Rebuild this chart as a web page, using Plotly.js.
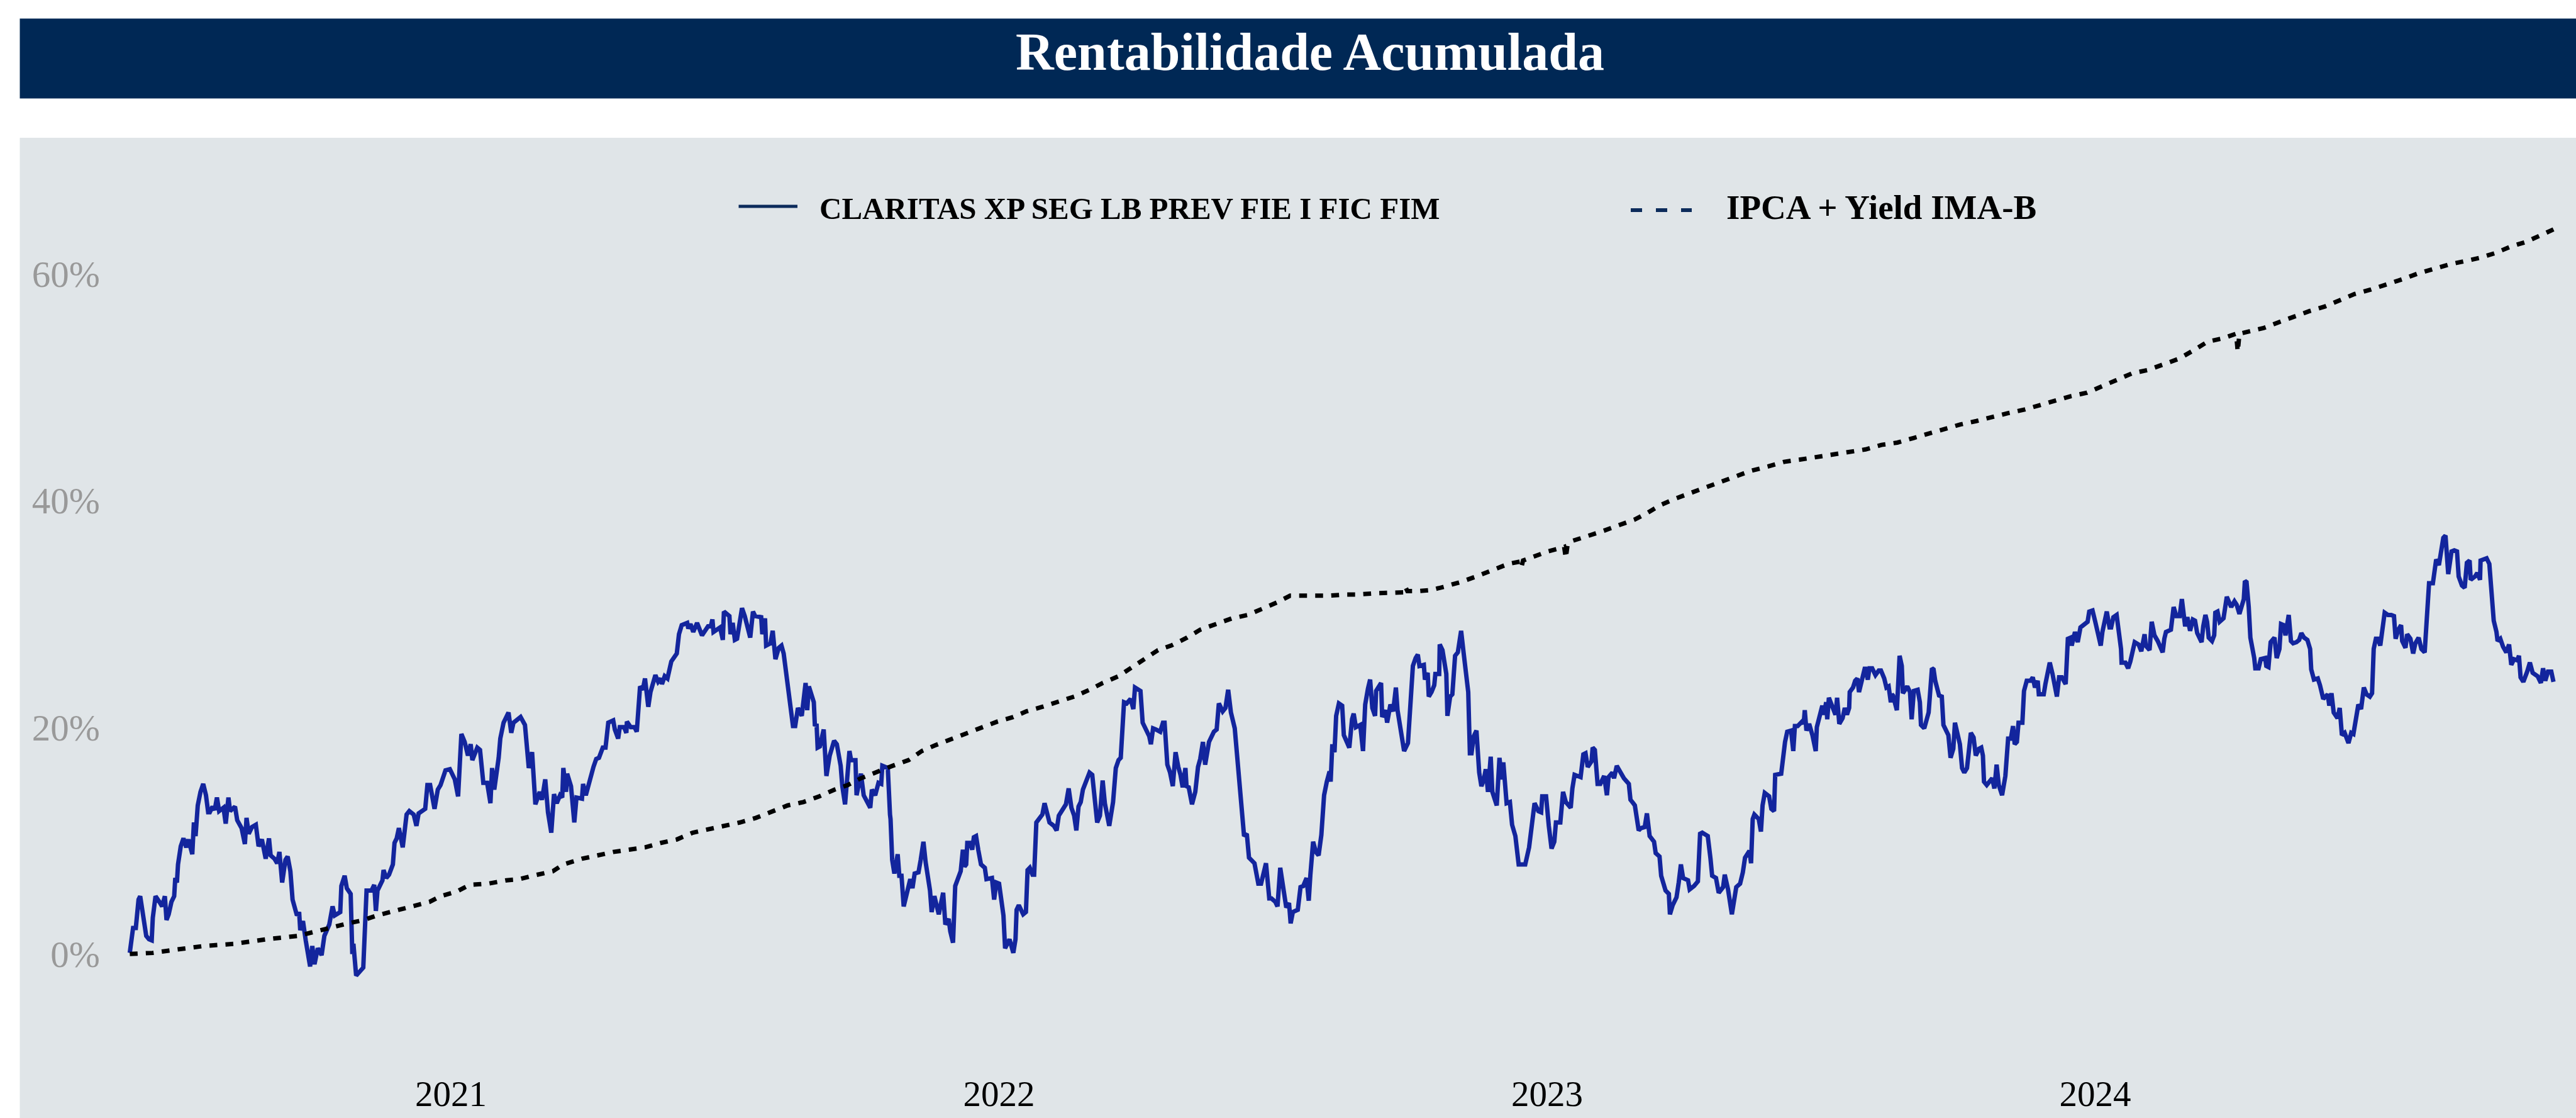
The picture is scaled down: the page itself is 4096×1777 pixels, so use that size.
<!DOCTYPE html>
<html><head><meta charset="utf-8">
<script src="https://cdn.plot.ly/plotly-3.0.1.min.js"></script>
<style>html,body{margin:0;padding:0;background:#fff;}#chart{width:4096px;height:1777px;}</style>
</head><body><div id="chart"></div>
<script>
const chartTitle = 'Rentabilidade Acumulada';
const seriesNames = ['CLARITAS XP SEG LB PREV FIE I FIC FIM', 'IPCA + Yield IMA-B'];
const yearTicks = [2021, 2022, 2023, 2024];
const yearLabels = ['2021', '2022', '2023', '2024'];
const pctTicks = [0, 20, 40, 60];
const pctLabels = ['0%', '20%', '40%', '60%'];

// [fractional year, accumulated return %]
const claritas = [
[2020.414,0.1],[2020.417,1.6],[2020.420,2.3],[2020.425,2.3],[2020.430,4.8],[2020.433,5.1],[2020.437,3.9],[2020.440,2.7],[2020.444,1.6],[2020.449,1.3],
[2020.454,1.2],[2020.456,3.2],[2020.461,5.1],[2020.468,4.6],[2020.473,4.2],[2020.478,5.1],[2020.481,3.0],[2020.485,3.5],[2020.490,4.6],[2020.495,5.1],
[2020.497,6.7],[2020.500,6.3],[2020.502,7.9],[2020.507,9.5],[2020.512,10.2],[2020.517,9.4],[2020.521,10.1],[2020.528,8.8],[2020.531,11.6],[2020.534,10.4],
[2020.538,13.1],[2020.543,14.3],[2020.548,15.0],[2020.553,14.0],[2020.557,12.5],[2020.560,12.5],[2020.565,13.0],[2020.569,12.7],[2020.573,13.8],[2020.577,12.6],
[2020.585,12.9],[2020.589,11.5],[2020.594,13.8],[2020.597,12.6],[2020.606,13.0],[2020.610,11.8],[2020.618,11.1],[2020.624,9.7],[2020.627,12.0],[2020.631,10.6],
[2020.637,11.2],[2020.644,11.4],[2020.649,9.5],[2020.655,10.1],[2020.662,8.4],[2020.668,10.2],[2020.671,8.7],[2020.678,8.4],[2020.683,8.0],[2020.687,9.0],
[2020.692,6.3],[2020.698,8.3],[2020.702,8.6],[2020.707,7.3],[2020.711,4.8],[2020.719,3.4],[2020.723,3.7],[2020.725,2.1],[2020.730,2.9],[2020.735,1.2],
[2020.743,-1.1],[2020.747,0.7],[2020.751,-0.9],[2020.757,0.5],[2020.764,-0.1],[2020.769,1.6],[2020.778,2.6],[2020.784,4.2],[2020.788,3.4],[2020.798,3.7],
[2020.800,6.0],[2020.806,6.9],[2020.810,5.8],[2020.817,5.3],[2020.820,0.0],[2020.822,0.9],[2020.827,-1.9],[2020.840,-1.2],[2020.844,4.4],[2020.846,5.6],
[2020.855,5.6],[2020.860,6.1],[2020.863,3.8],[2020.866,5.6],[2020.875,6.5],[2020.877,7.4],[2020.882,6.7],[2020.887,7.0],[2020.894,7.9],[2020.897,9.8],
[2020.901,10.2],[2020.905,11.1],[2020.912,9.4],[2020.916,11.1],[2020.919,12.3],[2020.924,12.6],[2020.932,12.3],[2020.937,11.3],[2020.941,12.4],[2020.953,12.8],
[2020.957,14.9],[2020.962,14.9],[2020.970,12.8],[2020.976,14.5],[2020.981,14.9],[2020.990,16.2],[2020.998,16.3],[2021.007,15.4],[2021.013,13.9],[2021.019,19.4],
[2021.025,18.7],[2021.031,17.5],[2021.036,18.5],[2021.039,17.1],[2021.048,18.2],[2021.053,18.0],[2021.059,15.1],[2021.066,15.1],[2021.072,13.3],[2021.075,16.4],
[2021.079,14.5],[2021.087,17.3],[2021.090,19.0],[2021.096,20.4],[2021.105,21.3],[2021.110,19.5],[2021.114,20.4],[2021.127,20.9],[2021.135,20.2],[2021.142,16.4],
[2021.148,17.8],[2021.154,13.2],[2021.162,14.3],[2021.166,13.6],[2021.172,15.4],[2021.177,12.5],[2021.183,10.7],[2021.188,14.1],[2021.193,13.3],[2021.199,14.0],
[2021.203,13.8],[2021.205,16.4],[2021.210,14.3],[2021.212,15.9],[2021.219,14.8],[2021.225,11.6],[2021.229,13.8],[2021.239,13.7],[2021.241,15.0],[2021.246,14.0],
[2021.253,15.4],[2021.260,16.5],[2021.265,17.2],[2021.270,17.3],[2021.277,18.2],[2021.282,18.2],[2021.287,20.4],[2021.296,20.6],[2021.299,19.8],[2021.305,19.0],
[2021.308,20.0],[2021.316,20.0],[2021.320,19.5],[2021.321,20.5],[2021.328,20.0],[2021.335,20.0],[2021.339,19.6],[2021.342,21.8],[2021.345,23.6],[2021.350,23.3],
[2021.354,24.3],[2021.360,21.8],[2021.364,23.1],[2021.373,24.6],[2021.378,24.0],[2021.383,24.3],[2021.385,23.8],[2021.390,24.5],[2021.395,24.3],[2021.402,25.8],
[2021.406,26.1],[2021.412,26.5],[2021.416,28.2],[2021.421,29.0],[2021.431,29.2],[2021.433,28.7],[2021.437,29.1],[2021.442,28.4],[2021.449,29.2],[2021.458,28.1],
[2021.469,28.9],[2021.474,28.9],[2021.477,29.5],[2021.479,28.4],[2021.491,28.8],[2021.496,27.7],[2021.498,30.2],[2021.508,29.8],[2021.510,28.2],[2021.514,29.2],
[2021.518,27.7],[2021.522,27.8],[2021.531,30.5],[2021.536,29.8],[2021.546,27.9],[2021.551,30.2],[2021.555,29.8],[2021.566,29.7],[2021.568,28.2],[2021.573,29.6],
[2021.575,27.2],[2021.583,27.4],[2021.587,28.5],[2021.592,26.0],[2021.598,27.0],[2021.603,27.2],[2021.607,26.5],[2021.611,24.9],[2021.620,21.2],[2021.624,20.1],
[2021.628,20.1],[2021.633,21.7],[2021.640,21.0],[2021.647,23.9],[2021.650,21.5],[2021.653,23.6],[2021.662,22.2],[2021.664,20.1],[2021.667,20.3],[2021.669,18.2],
[2021.673,18.3],[2021.680,19.8],[2021.685,15.7],[2021.691,17.5],[2021.699,18.8],[2021.704,18.5],[2021.711,16.6],[2021.714,14.8],[2021.719,13.2],[2021.727,17.9],
[2021.730,17.1],[2021.738,17.1],[2021.740,14.0],[2021.748,15.9],[2021.753,14.0],[2021.761,13.2],[2021.765,12.9],[2021.768,14.5],[2021.774,14.0],[2021.780,15.1],
[2021.785,15.0],[2021.787,16.6],[2021.797,16.4],[2021.801,12.3],[2021.802,11.9],[2021.805,8.3],[2021.809,7.1],[2021.815,8.8],[2021.818,6.9],[2021.822,6.9],
[2021.826,4.2],[2021.838,6.6],[2021.842,5.8],[2021.846,7.1],[2021.853,7.2],[2021.857,8.3],[2021.862,9.9],[2021.866,8.1],[2021.874,5.6],[2021.877,3.7],
[2021.882,5.1],[2021.890,3.5],[2021.898,5.4],[2021.902,2.6],[2021.908,3.1],[2021.911,2.0],[2021.916,1.0],[2021.920,6.0],[2021.925,6.7],[2021.930,7.3],
[2021.934,9.2],[2021.937,7.7],[2021.940,7.9],[2021.942,9.8],[2021.947,9.8],[2021.951,9.2],[2021.954,10.3],[2021.958,10.4],[2021.962,9.2],[2021.967,7.9],
[2021.974,7.6],[2021.977,6.6],[2021.987,6.7],[2021.991,4.8],[2021.995,6.3],[2022.000,6.2],[2022.004,4.8],[2022.008,3.4],[2022.011,0.5],[2022.019,1.3],
[2022.026,0.1],[2022.030,1.3],[2022.032,3.9],[2022.036,4.3],[2022.044,3.5],[2022.049,3.7],[2022.052,7.4],[2022.056,7.6],[2022.061,7.0],[2022.064,7.0],
[2022.068,11.6],[2022.073,12.0],[2022.079,12.3],[2022.083,13.3],[2022.088,12.5],[2022.092,11.6],[2022.100,11.3],[2022.105,10.9],[2022.109,12.2],[2022.115,12.6],
[2022.122,13.2],[2022.127,14.6],[2022.132,12.9],[2022.137,12.2],[2022.141,10.9],[2022.145,13.0],[2022.149,13.4],[2022.153,14.5],[2022.165,16.0],[2022.170,15.8],
[2022.175,13.2],[2022.179,11.6],[2022.184,12.2],[2022.187,15.2],[2022.189,15.3],[2022.193,13.3],[2022.197,12.5],[2022.201,11.3],[2022.208,13.4],[2022.213,16.4],
[2022.218,17.1],[2022.222,17.3],[2022.228,22.2],[2022.233,22.1],[2022.240,22.5],[2022.245,21.6],[2022.248,23.5],[2022.258,23.2],[2022.262,20.4],[2022.269,19.7],
[2022.274,19.2],[2022.277,18.5],[2022.281,19.9],[2022.286,19.8],[2022.294,19.6],[2022.299,20.4],[2022.302,20.4],[2022.307,16.7],[2022.312,16.0],[2022.317,14.8],
[2022.322,17.8],[2022.327,16.5],[2022.331,15.8],[2022.335,14.7],[2022.340,16.4],[2022.342,14.8],[2022.346,14.7],[2022.352,13.2],[2022.358,14.3],[2022.363,16.5],
[2022.367,17.2],[2022.372,18.7],[2022.376,16.7],[2022.383,18.7],[2022.388,19.3],[2022.392,19.6],[2022.397,19.8],[2022.401,22.1],[2022.408,21.4],[2022.413,21.7],
[2022.418,23.3],[2022.423,21.3],[2022.430,19.9],[2022.435,17.3],[2022.440,14.0],[2022.447,10.4],[2022.452,10.6],[2022.456,8.5],[2022.466,8.0],[2022.473,6.2],
[2022.478,6.2],[2022.487,8.0],[2022.493,4.9],[2022.497,4.9],[2022.504,4.6],[2022.508,4.2],[2022.513,7.6],[2022.519,5.5],[2022.524,4.1],[2022.529,4.5],
[2022.532,2.7],[2022.536,3.7],[2022.545,3.9],[2022.550,5.9],[2022.555,6.0],[2022.561,6.7],[2022.565,4.7],[2022.568,7.0],[2022.573,9.9],[2022.578,9.0],
[2022.583,8.7],[2022.588,10.5],[2022.593,14.0],[2022.598,15.2],[2022.603,16.1],[2022.605,15.2],[2022.608,18.5],[2022.612,17.8],[2022.615,21.0],[2022.620,22.1],
[2022.626,21.9],[2022.629,19.3],[2022.639,18.2],[2022.644,20.7],[2022.647,21.2],[2022.651,20.0],[2022.659,20.2],[2022.664,17.9],[2022.668,22.0],[2022.673,23.4],
[2022.677,24.2],[2022.681,21.7],[2022.686,21.0],[2022.688,23.2],[2022.697,23.9],[2022.699,20.9],[2022.705,21.5],[2022.708,20.4],[2022.714,22.0],[2022.719,21.4],
[2022.724,23.5],[2022.727,21.5],[2022.734,19.3],[2022.739,17.9],[2022.746,18.6],[2022.751,22.0],[2022.755,25.4],[2022.760,26.1],[2022.764,26.4],[2022.767,25.4],
[2022.775,25.5],[2022.777,24.2],[2022.782,24.8],[2022.784,22.7],[2022.789,23.1],[2022.794,23.7],[2022.796,24.7],[2022.803,24.7],[2022.804,27.3],[2022.809,26.8],
[2022.816,24.7],[2022.818,21.0],[2022.823,22.7],[2022.827,22.9],[2022.832,26.3],[2022.837,26.6],[2022.843,28.5],[2022.847,26.8],[2022.852,24.7],[2022.856,23.1],
[2022.859,17.7],[2022.862,17.7],[2022.866,19.2],[2022.871,19.7],[2022.876,16.0],[2022.880,14.8],[2022.884,15.3],[2022.888,16.3],[2022.892,14.3],[2022.897,17.4],
[2022.900,14.3],[2022.904,13.6],[2022.908,13.1],[2022.913,17.3],[2022.917,15.4],[2022.920,16.9],[2022.926,13.3],[2022.932,13.4],[2022.936,11.4],[2022.942,10.4],
[2022.948,7.9],[2022.955,7.9],[2022.960,7.9],[2022.967,9.4],[2022.972,11.4],[2022.977,13.3],[2022.984,12.6],[2022.989,12.5],[2022.991,13.9],[2022.998,13.9],
[2023.003,11.3],[2023.008,9.3],[2023.013,9.9],[2023.016,11.6],[2023.024,11.6],[2023.029,14.3],[2023.034,13.4],[2023.043,12.9],[2023.046,14.6],[2023.050,15.8],
[2023.061,15.6],[2023.066,17.6],[2023.070,17.7],[2023.074,16.5],[2023.081,17.0],[2023.083,18.2],[2023.087,18.0],[2023.092,15.0],[2023.097,15.0],[2023.104,15.7],
[2023.109,14.0],[2023.112,15.6],[2023.119,16.0],[2023.122,15.5],[2023.127,16.6],[2023.131,16.2],[2023.140,15.5],[2023.149,15.0],[2023.152,13.6],[2023.157,13.3],
[2023.160,13.1],[2023.167,10.9],[2023.171,11.1],[2023.178,11.2],[2023.182,12.4],[2023.187,10.4],[2023.195,9.9],[2023.198,8.9],[2023.205,8.6],[2023.208,6.9],
[2023.216,5.6],[2023.222,5.3],[2023.224,3.5],[2023.229,4.3],[2023.236,5.0],[2023.240,6.3],[2023.244,7.9],[2023.248,6.7],[2023.257,6.5],[2023.260,5.7],
[2023.268,6.0],[2023.275,6.4],[2023.279,10.6],[2023.283,10.7],[2023.293,10.4],[2023.298,8.4],[2023.301,6.9],[2023.308,6.7],[2023.313,5.4],[2023.321,5.9],
[2023.324,7.0],[2023.330,5.7],[2023.337,3.5],[2023.345,5.9],[2023.352,6.2],[2023.357,7.2],[2023.361,8.5],[2023.369,9.1],[2023.372,8.0],[2023.375,11.9],
[2023.378,12.3],[2023.386,11.9],[2023.390,10.8],[2023.393,13.1],[2023.397,14.2],[2023.405,13.9],[2023.409,12.8],[2023.414,12.6],[2023.416,15.8],[2023.427,15.9],
[2023.431,17.8],[2023.434,18.7],[2023.438,19.6],[2023.445,19.7],[2023.449,17.9],[2023.452,20.1],[2023.457,20.1],[2023.465,20.5],[2023.468,20.3],[2023.470,21.5],
[2023.473,19.7],[2023.478,20.3],[2023.484,19.3],[2023.490,17.9],[2023.492,20.0],[2023.497,20.8],[2023.502,21.9],[2023.505,21.1],[2023.509,22.2],[2023.511,20.7],
[2023.514,22.6],[2023.522,21.6],[2023.526,21.1],[2023.529,22.6],[2023.533,20.3],[2023.539,20.8],[2023.543,21.7],[2023.547,21.1],[2023.551,21.7],[2023.552,23.1],
[2023.558,23.5],[2023.562,24.1],[2023.566,24.3],[2023.569,23.1],[2023.572,23.8],[2023.580,25.3],[2023.585,24.2],[2023.588,25.2],[2023.593,25.2],[2023.599,24.6],
[2023.605,25.0],[2023.609,25.0],[2023.615,24.3],[2023.619,23.5],[2023.623,23.6],[2023.627,22.2],[2023.629,22.9],[2023.631,22.8],[2023.638,21.5],[2023.641,26.1],
[2023.643,26.3],[2023.647,25.4],[2023.649,23.0],[2023.657,23.6],[2023.662,23.1],[2023.665,20.7],[2023.669,23.2],[2023.676,23.3],[2023.680,22.2],[2023.682,20.2],
[2023.688,19.9],[2023.696,21.3],[2023.699,23.1],[2023.702,25.2],[2023.705,25.1],[2023.708,24.1],[2023.715,22.8],[2023.720,22.7],[2023.723,20.2],[2023.728,19.6],
[2023.732,19.3],[2023.736,17.3],[2023.741,18.1],[2023.744,20.4],[2023.753,18.5],[2023.757,16.4],[2023.761,16.0],[2023.766,16.4],[2023.773,19.5],[2023.778,19.1],
[2023.782,17.5],[2023.788,18.1],[2023.792,18.2],[2023.795,17.5],[2023.797,15.2],[2023.802,14.9],[2023.809,15.3],[2023.812,15.5],[2023.816,14.6],[2023.818,16.7],
[2023.820,16.7],[2023.824,14.9],[2023.830,14.0],[2023.836,15.7],[2023.841,19.0],[2023.846,19.0],[2023.850,20.1],[2023.853,18.5],[2023.857,18.7],[2023.860,20.4],
[2023.867,20.4],[2023.870,23.2],[2023.875,24.1],[2023.882,24.1],[2023.886,24.4],[2023.890,23.5],[2023.895,24.1],[2023.897,22.9],[2023.906,22.9],[2023.909,23.8],
[2023.913,24.7],[2023.917,25.7],[2023.922,24.7],[2023.926,23.5],[2023.930,22.7],[2023.934,24.4],[2023.939,24.4],[2023.946,23.8],[2023.950,27.8],[2023.955,27.9],
[2023.957,27.2],[2023.963,28.4],[2023.968,27.5],[2023.973,28.8],[2023.980,29.1],[2023.986,29.3],[2023.989,30.2],[2023.995,30.3],[2024.000,29.3],[2024.005,28.4],
[2024.010,27.2],[2024.013,28.4],[2024.018,29.6],[2024.021,30.2],[2024.026,28.8],[2024.029,28.8],[2024.033,29.7],[2024.039,29.9],[2024.043,28.4],[2024.047,26.9],
[2024.048,25.7],[2024.055,25.7],[2024.060,25.2],[2024.064,25.8],[2024.072,27.5],[2024.079,27.3],[2024.084,26.7],[2024.090,28.2],[2024.092,27.2],[2024.099,26.8],
[2024.103,29.3],[2024.108,28.1],[2024.114,27.6],[2024.123,26.6],[2024.126,27.8],[2024.129,28.4],[2024.138,28.6],[2024.140,29.9],[2024.143,30.6],[2024.148,29.8],
[2024.154,29.8],[2024.158,31.3],[2024.162,29.3],[2024.164,28.9],[2024.168,29.7],[2024.173,28.5],[2024.178,29.5],[2024.182,29.4],[2024.186,28.3],[2024.194,27.5],
[2024.197,28.9],[2024.201,29.9],[2024.204,29.3],[2024.207,27.9],[2024.213,27.6],[2024.217,28.1],[2024.219,30.1],[2024.223,30.2],[2024.227,29.3],[2024.234,29.6],
[2024.240,31.5],[2024.248,30.6],[2024.254,31.1],[2024.258,30.8],[2024.263,30.0],[2024.267,30.6],[2024.271,31.3],[2024.273,32.9],[2024.276,32.8],[2024.280,30.6],
[2024.283,27.9],[2024.290,26.1],[2024.292,25.2],[2024.298,25.2],[2024.302,26.0],[2024.310,26.1],[2024.312,25.4],[2024.316,25.3],[2024.320,27.5],[2024.327,27.9],
[2024.331,26.1],[2024.336,26.9],[2024.339,29.1],[2024.344,29.0],[2024.347,28.1],[2024.353,29.9],[2024.357,27.6],[2024.361,27.4],[2024.367,27.5],[2024.372,27.7],
[2024.376,28.3],[2024.381,27.9],[2024.387,27.7],[2024.392,26.9],[2024.394,25.1],[2024.399,24.2],[2024.406,24.3],[2024.410,23.7],[2024.416,22.5],[2024.424,22.9],
[2024.427,21.9],[2024.431,23.0],[2024.435,21.3],[2024.442,20.8],[2024.446,21.7],[2024.450,19.3],[2024.455,19.5],[2024.462,18.6],[2024.467,19.5],[2024.471,19.4],
[2024.475,20.5],[2024.480,22.0],[2024.485,21.6],[2024.490,23.5],[2024.495,22.9],[2024.501,22.7],[2024.505,23.0],[2024.508,26.9],[2024.512,27.8],[2024.516,27.8],
[2024.520,27.2],[2024.524,28.8],[2024.528,30.1],[2024.534,29.9],[2024.540,29.9],[2024.545,29.8],[2024.548,27.8],[2024.553,28.6],[2024.558,29.0],[2024.560,27.6],
[2024.566,27.0],[2024.569,28.2],[2024.575,27.8],[2024.580,26.5],[2024.584,27.4],[2024.590,27.9],[2024.595,26.9],[2024.601,26.6],[2024.604,29.3],[2024.606,30.1],
[2024.609,32.7],[2024.616,32.7],[2024.619,33.9],[2024.622,34.8],[2024.627,34.3],[2024.635,36.7],[2024.639,36.9],[2024.644,33.5],[2024.650,35.5],[2024.655,35.6],
[2024.660,35.5],[2024.663,33.3],[2024.669,32.5],[2024.674,32.3],[2024.678,34.5],[2024.683,34.7],[2024.685,33.0],[2024.693,33.3],[2024.697,33.6],[2024.702,33.0],
[2024.703,34.7],[2024.714,34.9],[2024.719,34.4],[2024.723,32.3],[2024.727,29.4],[2024.732,28.4],[2024.734,27.6],[2024.739,27.8],[2024.744,27.1],[2024.750,26.6],
[2024.755,27.3],[2024.759,25.5],[2024.764,26.0],[2024.770,25.9],[2024.773,26.3],[2024.776,24.4],[2024.781,24.0],[2024.788,24.9],[2024.793,25.7],[2024.798,24.8],
[2024.807,24.5],[2024.813,23.9],[2024.817,25.2],[2024.821,24.1],[2024.826,24.9],[2024.832,24.9],[2024.836,24.0]
];

const ipcaYield = [
[2020.414,0.0],[2020.456,0.1],[2020.485,0.3],[2020.548,0.7],[2020.605,0.9],[2020.663,1.3],[2020.721,1.6],[2020.750,2.0],[2020.779,2.3],[2020.812,2.7],
[2020.841,3.0],[2020.865,3.4],[2020.899,3.8],[2020.933,4.2],[2020.961,4.6],[2020.981,5.1],[2021.010,5.5],[2021.034,6.1],[2021.067,6.2],[2021.101,6.5],
[2021.125,6.6],[2021.149,6.9],[2021.186,7.3],[2021.205,7.9],[2021.239,8.4],[2021.268,8.7],[2021.296,9.0],[2021.325,9.2],[2021.354,9.4],[2021.383,9.8],
[2021.412,10.1],[2021.441,10.7],[2021.470,11.0],[2021.498,11.3],[2021.527,11.6],[2021.556,12.0],[2021.585,12.5],[2021.614,13.1],[2021.643,13.4],[2021.672,13.9],
[2021.700,14.5],[2021.724,14.9],[2021.748,15.5],[2021.777,16.1],[2021.806,16.6],[2021.835,17.1],[2021.859,17.9],[2021.883,18.4],[2021.910,18.9],[2021.939,19.5],
[2021.968,20.0],[2021.997,20.5],[2022.026,20.9],[2022.050,21.4],[2022.079,21.8],[2022.108,22.2],[2022.137,22.7],[2022.165,23.3],[2022.189,23.9],[2022.218,24.5],
[2022.242,25.3],[2022.266,26.1],[2022.290,26.8],[2022.314,27.2],[2022.343,27.9],[2022.367,28.6],[2022.396,29.1],[2022.425,29.6],[2022.454,29.9],[2022.483,30.5],
[2022.507,31.0],[2022.531,31.6],[2022.565,31.6],[2022.603,31.6],[2022.632,31.7],[2022.650,31.7],[2022.683,31.8],[2022.717,31.9],[2022.738,31.9],[2022.741,32.4],
[2022.745,32.0],[2022.765,32.0],[2022.789,32.1],[2022.813,32.4],[2022.842,32.8],[2022.871,33.3],[2022.900,33.8],[2022.929,34.4],[2022.950,34.6],[2022.953,34.1],
[2022.956,34.7],[2022.967,34.9],[2023.001,35.5],[2023.025,35.8],[2023.031,35.9],[2023.034,34.9],[2023.037,36.0],[2023.044,36.4],[2023.078,36.9],[2023.102,37.3],
[2023.130,37.8],[2023.159,38.3],[2023.183,38.9],[2023.207,39.6],[2023.236,40.2],[2023.264,40.7],[2023.293,41.2],[2023.322,41.7],[2023.347,42.1],[2023.371,42.6],
[2023.403,43.0],[2023.432,43.4],[2023.461,43.6],[2023.490,43.8],[2023.518,44.0],[2023.552,44.3],[2023.581,44.5],[2023.610,44.9],[2023.639,45.1],[2023.668,45.5],
[2023.696,45.9],[2023.725,46.3],[2023.754,46.7],[2023.783,47.0],[2023.812,47.4],[2023.841,47.7],[2023.870,48.0],[2023.898,48.4],[2023.927,48.8],[2023.956,49.2],
[2023.985,49.5],[2024.014,50.1],[2024.038,50.6],[2024.067,51.2],[2024.096,51.5],[2024.124,52.0],[2024.153,52.5],[2024.178,53.2],[2024.205,54.0],[2024.233,54.3],
[2024.253,54.6],[2024.257,54.7],[2024.260,53.1],[2024.263,54.7],[2024.272,54.8],[2024.307,55.2],[2024.334,55.7],[2024.362,56.2],[2024.391,56.7],[2024.419,57.1],
[2024.446,57.7],[2024.473,58.2],[2024.503,58.6],[2024.530,59.0],[2024.560,59.5],[2024.588,60.0],[2024.615,60.4],[2024.645,60.8],[2024.674,61.1],[2024.702,61.4],
[2024.729,61.8],[2024.759,62.4],[2024.786,62.8],[2024.813,63.4],[2024.836,63.9]
];

// ---- layout geometry (pixels in the 4096x1777 window) ----
const W = 4096, H = 1777;
const M = {l: 160, r: 0, t: 219, b: 77};
const pw = W - M.l - M.r, ph = H - M.t - M.b;
const px = v => (v - M.l) / pw;
const py = v => (H - M.b - v) / ph;
const serif = 'Liberation Serif, Times New Roman, serif';

const traces = [
  {
    type: 'scatter', mode: 'lines', name: seriesNames[0],
    x: claritas.map(p => p[0]), y: claritas.map(p => p[1]),
    line: {color: '#13259d', width: 7},
    hoverinfo: 'skip'
  },
  {
    type: 'scatter', mode: 'lines', name: seriesNames[1],
    x: ipcaYield.map(p => p[0]), y: ipcaYield.map(p => p[1]),
    line: {color: '#000000', width: 7, dash: '12.5px,13px'},
    hoverinfo: 'skip'
  }
];

const layout = {
  width: W, height: H,
  margin: {l: M.l, r: M.r, t: M.t, b: M.b, pad: 0},
  paper_bgcolor: '#ffffff',
  plot_bgcolor: 'rgba(0,0,0,0)',
  showlegend: false,
  title: {
    text: '<b>' + chartTitle + '</b>',
    font: {family: serif, size: 84, color: '#ffffff'},
    xref: 'container', yref: 'container',
    x: 2083 / W, y: 1 - 82 / H, xanchor: 'center', yanchor: 'middle'
  },
  xaxis: {
    range: [2020.3608, 2024.8771],
    tickmode: 'array', tickvals: yearTicks, ticktext: yearLabels,
    showgrid: false, zeroline: false, showline: false, ticks: '',
    tickfont: {family: serif, size: 57, color: '#000000'},
    fixedrange: true
  },
  yaxis: {
    range: [-10.19, 71.98],
    tickmode: 'array', tickvals: pctTicks, ticktext: pctLabels,
    showgrid: false, zeroline: false, showline: false, ticks: '',
    tickfont: {family: serif, size: 59, color: '#999999'},
    fixedrange: true
  },
  shapes: [
    {type: 'rect', xref: 'paper', yref: 'paper', layer: 'below',
     x0: px(31.5), x1: px(W + 5), y0: py(H + 5), y1: py(218.9),
     fillcolor: '#e0e5e8', line: {width: 0}},
    {type: 'rect', xref: 'paper', yref: 'paper', layer: 'below',
     x0: px(31.5), x1: px(W + 5), y0: py(156.4), y1: py(29.6),
     fillcolor: '#002855', line: {width: 0}},
    {type: 'line', xref: 'paper', yref: 'paper',
     x0: px(1174.5), x1: px(1268), y0: py(328), y1: py(328),
     line: {color: '#0c2b5b', width: 5}},
    {type: 'line', xref: 'paper', yref: 'paper',
     x0: px(2593), x1: px(2690), y0: py(334), y1: py(334),
     line: {color: '#0c2b5b', width: 6, dash: '18px,22px'}}
  ],
  annotations: [
    {xref: 'paper', yref: 'paper', x: px(1301), y: py(331), xanchor: 'left', yanchor: 'middle',
     showarrow: false, text: '<b>' + seriesNames[0] + '</b>',
     font: {family: serif, size: 49, color: '#000000'}},
    {xref: 'paper', yref: 'paper', x: px(2742.7), y: py(329), xanchor: 'left', yanchor: 'middle',
     showarrow: false, text: '<b>' + seriesNames[1] + '</b>',
     font: {family: serif, size: 55, color: '#000000'}}
  ]
};

Plotly.newPlot('chart', traces, layout, {staticPlot: true, displayModeBar: false});
</script>
</body></html>
